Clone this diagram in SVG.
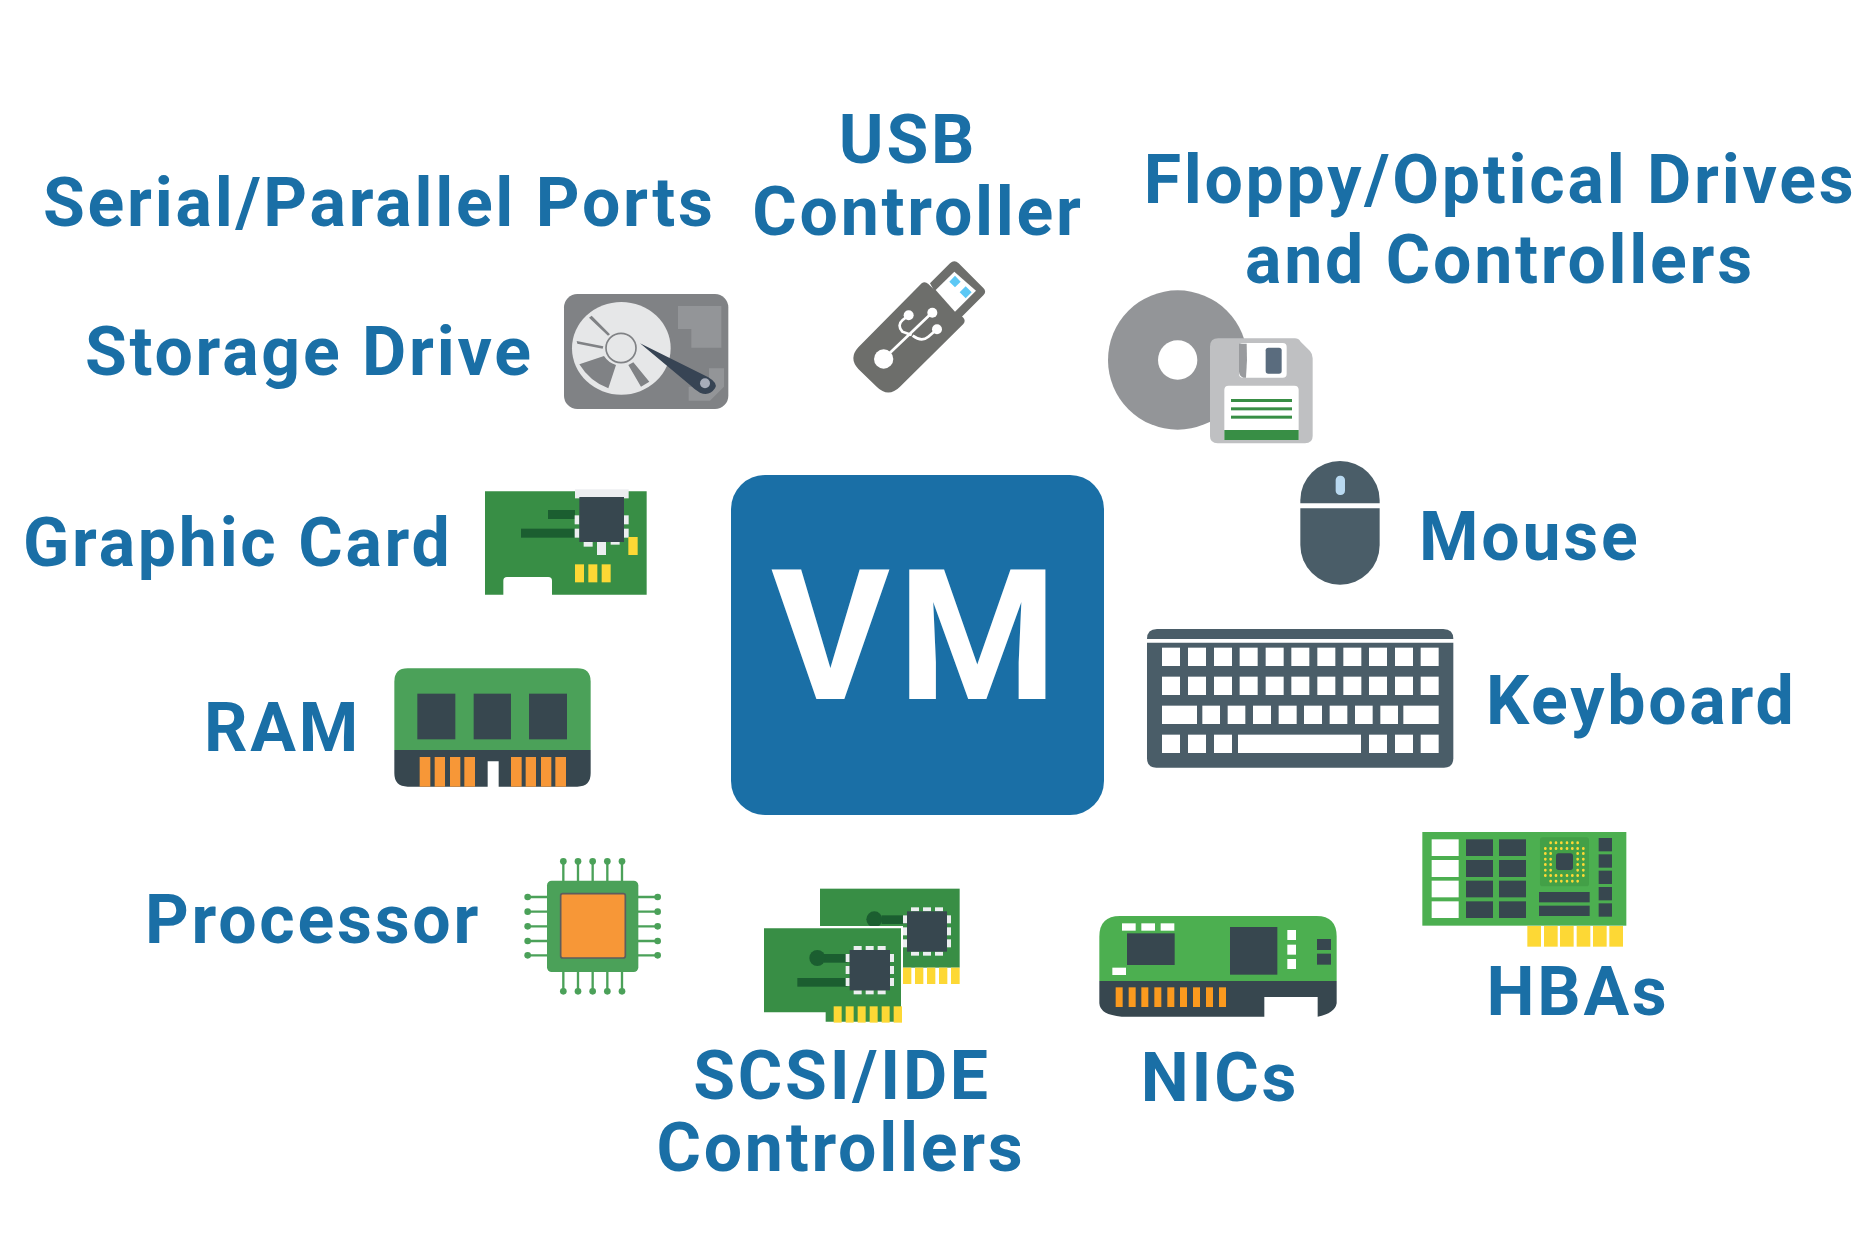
<svg xmlns="http://www.w3.org/2000/svg" width="1876" height="1250" viewBox="0 0 1876 1250">
<style>
text{font-family:Roboto,"Liberation Sans",sans-serif;font-weight:700;fill:#1a6fa6;font-size:68px;letter-spacing:2.75px}
.m{text-anchor:middle}
.d{fill:#37474f}
.o{fill:#f79737}
.y{fill:#fdd835}
.w{fill:#eceef0}
.g{fill:#388e45}
.gd{fill:#1b5e30}
</style>
<rect width="1876" height="1250" fill="#fff"/>
<g id="connectors"/>
<g id="vm"><rect x="731" y="475" width="373" height="340" rx="34" fill="#1a6fa6"/><text x="918" y="699" class="m" style="font-size:182px;fill:#fff;letter-spacing:8px">VM</text></g>
<g id="serial"><text x="43" y="226">Serial/Parallel Ports</text></g>
<g id="usb"><text x="908" y="163" class="m">USB</text><text x="918" y="235" class="m">Controller</text>
<g transform="translate(540 270) scale(.33333)">
<path d="M1170,40 L1230,-20 Q1243,-33 1256,-20 L1330,54 Q1341,65 1330,76 L1240,166Z" fill="#6d6e6b"/>
<path d="M1145,40 Q1155,33 1165,42 L1270,143 Q1278,152 1270,162 L1080,350 Q1045,385 1010,350 L955,297 Q925,265 955,232 Z" fill="#6d6e6b"/>
<path d="M1187,60 L1243,5 L1308,62 L1245,125Z" fill="#fff"/>
<path d="M1245,17 L1262,35 L1245,52 L1228,35Z M1277,49 L1295,67 L1277,85 L1259,67Z" fill="#5cc8f5"/>
<circle cx="1031" cy="267" r="29" fill="#fff"/>
<path d="M1040,258 L1172,132 M1115,195 L1087,185 Q1070,165 1088,150 L1106,136 M1118,197 Q1145,217 1165,200 L1191,178" fill="none" stroke="#fff" stroke-width="8"/>
<circle cx="1106" cy="136" r="15" fill="#fff"/><circle cx="1177" cy="128" r="15" fill="#fff"/><circle cx="1191" cy="178" r="15" fill="#fff"/>
</g></g>
<g id="floppy"><text x="1500" y="203" class="m">Floppy/Optical Drives</text><text x="1500" y="283" class="m">and Controllers</text>
<g transform="translate(1090 270) scale(.33333)">
<circle cx="263" cy="270" r="209" fill="#939598"/><circle cx="263" cy="270" r="59" fill="#fff"/>
<path d="M385,205 H615 Q625,205 632,215 L660,243 Q668,252 668,265 V498 Q668,520 645,520 H383 Q360,520 360,498 V230 Q360,205 385,205Z" fill="#bfc0c2"/>
<rect x="447" y="219" width="143" height="104" rx="12" fill="#fff"/>
<path d="M447,221 H470 Q473,270 468,323 H460 Q448,318 447,305Z" fill="#999b9e"/>
<rect x="527" y="233" width="48" height="78" rx="8" fill="#5a6c7e"/>
<path d="M403,510 V360 Q403,347 416,347 H613 Q626,347 626,360 V510Z" fill="#fff"/>
<rect x="403" y="480" width="223" height="30" fill="#388e45"/>
<rect x="423" y="387" width="183" height="9" fill="#388e45"/><rect x="423" y="412" width="183" height="9" fill="#388e45"/><rect x="423" y="437" width="183" height="9" fill="#388e45"/>
</g></g>
<g id="storage"><text x="85" y="375">Storage Drive</text>
<g transform="translate(540 270) scale(.33333)">
<rect x="72" y="72" width="493" height="345" rx="40" fill="#808285"/>
<path d="M414,108 H544 V233 H454 V177 H414Z M507,295 H552 V350 L510,392 H446 V350 H507Z" fill="#939598"/>
<ellipse cx="244" cy="235" rx="148" ry="139" fill="#e6e7e8"/>
<path d="M147,143 L155,137 L210,193 L204,197Z M110,213 L112,221 L188,236 L190,229Z M118,283 L192,258 Q205,278 228,285 L205,355 Q150,335 118,283Z M265,285 L280,277 L328,335 L303,350Z" fill="#808285"/>
<ellipse cx="243" cy="234" rx="45" ry="44" fill="#e6e7e8" stroke="#808285" stroke-width="5"/>
<path d="M300,220 L505,322 Q535,340 525,355 Q508,380 480,368 Q465,360 450,345Z" fill="#374454"/>
<circle cx="495" cy="340" r="15" fill="#a7adba"/>
</g></g>
<g id="mouse"><text x="1419" y="560">Mouse</text>
<g transform="translate(1090 270) scale(.33333)">
<path d="M631,700 V690 A119,117 0 0 1 869,690 V700Z" fill="#4a5d68"/>
<path d="M631,715 H869 V825 A119,119 0 0 1 631,825Z" fill="#4a5d68"/>
<rect x="737" y="617" width="28" height="58" rx="13" fill="#b9d9f0"/>
</g></g>
<g id="graphic"><text x="23" y="566">Graphic Card</text>
<g transform="translate(470 470) scale(.33333)">
<path d="M45,64 H530 V374 H246 V332 Q246,321 235,321 H111 Q100,321 100,332 V374 H45Z" class="g"/>
<rect x="234" y="120" width="81" height="27" class="gd"/><rect x="153" y="176" width="162" height="27" class="gd"/>
<rect x="315" y="58" width="161" height="27" class="w"/>
<rect x="314" y="136" width="14" height="27" class="w"/><rect x="314" y="176" width="14" height="27" class="w"/><rect x="462" y="136" width="14" height="27" class="w"/><rect x="462" y="176" width="14" height="27" class="w"/>
<rect x="341" y="216" width="27" height="14" class="w"/><rect x="381" y="216" width="27" height="39" class="w"/><rect x="422" y="216" width="27" height="8" class="w"/>
<rect x="328" y="81" width="134" height="135" class="d"/>
<rect x="475" y="201" width="28" height="54" class="y"/>
<rect x="315" y="283" width="27" height="54" class="y"/><rect x="355" y="283" width="27" height="54" class="y"/><rect x="395" y="283" width="27" height="54" class="y"/>
</g></g>
<g id="ram"><text x="204" y="751">RAM</text>
<g transform="translate(380 660) scale(.33333)">
<path d="M43,270 V65 Q43,25 83,25 H592 Q632,25 632,65 V270Z" fill="#4ba159"/>
<path d="M43,270 H632 V340 Q632,380 592,380 H356 V304 H323 V380 H83 Q43,380 43,340Z" class="d"/>
<rect x="112" y="101" width="114" height="137" class="d"/><rect x="281" y="101" width="112" height="137" class="d"/><rect x="447" y="101" width="114" height="137" class="d"/>
<g class="o"><rect x="119" y="291" width="32" height="89"/><rect x="164" y="291" width="31" height="89"/><rect x="210" y="291" width="31" height="89"/><rect x="253" y="291" width="32" height="89"/><rect x="393" y="291" width="32" height="89"/><rect x="437" y="291" width="31" height="89"/><rect x="483" y="291" width="31" height="89"/><rect x="526" y="291" width="32" height="89"/></g>
</g></g>
<g id="processor"><text x="145" y="943">Processor</text>
<g transform="translate(380 660) scale(.33333)">
<g stroke="#4ba159" stroke-width="7" fill="#4ba159">
<path d="M550,604V664 M594,604V664 M638,604V664 M682,604V664 M726,604V664 M550,994V934 M594,994V934 M638,994V934 M682,994V934 M726,994V934 M443,711H503 M443,755H503 M443,799H503 M443,843H503 M443,886H503 M833,711H773 M833,755H773 M833,799H773 M833,843H773 M833,886H773"/>
</g>
<g fill="#4ba159"><circle cx="550" cy="604" r="10"/><circle cx="594" cy="604" r="10"/><circle cx="638" cy="604" r="10"/><circle cx="682" cy="604" r="10"/><circle cx="726" cy="604" r="10"/><circle cx="550" cy="994" r="10"/><circle cx="594" cy="994" r="10"/><circle cx="638" cy="994" r="10"/><circle cx="682" cy="994" r="10"/><circle cx="726" cy="994" r="10"/><circle cx="443" cy="711" r="10"/><circle cx="443" cy="755" r="10"/><circle cx="443" cy="799" r="10"/><circle cx="443" cy="843" r="10"/><circle cx="443" cy="886" r="10"/><circle cx="833" cy="711" r="10"/><circle cx="833" cy="755" r="10"/><circle cx="833" cy="799" r="10"/><circle cx="833" cy="843" r="10"/><circle cx="833" cy="886" r="10"/></g>
<rect x="501" y="662" width="274" height="274" rx="14" fill="#4ba159"/>
<rect x="542" y="701" width="194" height="193" rx="6" class="o" stroke="#5d5d5d" stroke-width="5"/>
</g></g>
<g id="scsi"><text x="842" y="1099" class="m">SCSI/IDE</text><text x="841" y="1171" class="m">Controllers</text>
<g transform="translate(750 870) scale(.33333)">
<rect x="210" y="56" width="419" height="237" class="g"/>
<rect x="395" y="136" width="80" height="26" class="gd"/><circle cx="373" cy="148" r="24" class="gd"/>
<g class="w"><rect x="483" y="112" width="24" height="12"/><rect x="519" y="112" width="24" height="12"/><rect x="555" y="112" width="24" height="12"/><rect x="483" y="245" width="24" height="12"/><rect x="519" y="245" width="24" height="12"/><rect x="555" y="245" width="24" height="12"/><rect x="459" y="136" width="12" height="24"/><rect x="459" y="172" width="12" height="24"/><rect x="459" y="208" width="12" height="24"/><rect x="591" y="136" width="12" height="24"/><rect x="591" y="172" width="12" height="24"/><rect x="591" y="208" width="12" height="24"/></g>
<rect x="471" y="124" width="120" height="121" class="d"/>
<g class="y"><rect x="459" y="293" width="25" height="49"/><rect x="495" y="293" width="25" height="49"/><rect x="531" y="293" width="25" height="49"/><rect x="567" y="293" width="25" height="49"/><rect x="603" y="293" width="26" height="49"/></g>
<path d="M36,168 H459 V462 H220 V434 H36Z" fill="#fff"/>
<path d="M42,175 H453 V455 H227 V427 H42Z" class="g"/>
<rect x="222" y="252" width="70" height="26" class="gd"/><circle cx="202" cy="264" r="24" class="gd"/><rect x="142" y="324" width="150" height="26" class="gd"/>
<g class="w"><rect x="311" y="228" width="24" height="12"/><rect x="347" y="228" width="24" height="12"/><rect x="383" y="228" width="24" height="12"/><rect x="311" y="361" width="24" height="12"/><rect x="347" y="361" width="24" height="12"/><rect x="383" y="361" width="24" height="12"/><rect x="287" y="252" width="12" height="24"/><rect x="287" y="288" width="12" height="24"/><rect x="287" y="324" width="12" height="24"/><rect x="420" y="252" width="12" height="24"/><rect x="420" y="288" width="12" height="24"/><rect x="420" y="324" width="12" height="24"/></g>
<rect x="299" y="240" width="121" height="121" class="d"/>
<g class="y"><rect x="251" y="409" width="24" height="49"/><rect x="287" y="409" width="24" height="49"/><rect x="323" y="409" width="24" height="49"/><rect x="359" y="409" width="24" height="49"/><rect x="395" y="409" width="24" height="49"/><rect x="431" y="409" width="25" height="49"/></g>
</g></g>
<g id="nics"><text x="1220" y="1101" class="m">NICs</text>
<g transform="translate(1090 900) scale(.33333)">
<path d="M28,243 V110 Q28,48 90,48 H680 Q740,48 740,110 V243Z" fill="#4caf50"/>
<path d="M28,243 H740 V310 Q735,340 683,350 V291 H523 V350 H95 Q30,345 28,310Z" class="d"/>
<g fill="#fff"><rect x="96" y="70" width="41" height="22"/><rect x="154" y="70" width="41" height="22"/><rect x="212" y="70" width="41" height="22"/><rect x="67" y="203" width="41" height="22"/><rect x="592" y="90" width="26" height="30"/><rect x="592" y="134" width="26" height="30"/><rect x="592" y="177" width="26" height="30"/></g>
<rect x="111" y="100" width="143" height="95" class="d"/><rect x="420" y="81" width="142" height="143" class="d"/><rect x="681" y="117" width="42" height="33" class="d"/><rect x="681" y="161" width="42" height="33" class="d"/>
<g fill="#fb9a1e"><rect x="77" y="262" width="21" height="59"/><rect x="116" y="262" width="21" height="59"/><rect x="154" y="262" width="21" height="59"/><rect x="193" y="262" width="21" height="59"/><rect x="232" y="262" width="21" height="59"/><rect x="270" y="262" width="21" height="59"/><rect x="309" y="262" width="21" height="59"/><rect x="348" y="262" width="21" height="59"/><rect x="387" y="262" width="21" height="59"/></g>
</g></g>
<g id="hbas"><text x="1578" y="1015" class="m">HBAs</text>
<g transform="translate(1410 820) scale(.33333)">
<rect x="37" y="36" width="612" height="281" fill="#4caf50"/>
<g fill="#fff"><rect x="65" y="58" width="81" height="50"/><rect x="65" y="120" width="81" height="51"/><rect x="65" y="182" width="81" height="50"/><rect x="65" y="244" width="81" height="50"/></g>
<g class="d"><rect x="168" y="58" width="81" height="50"/><rect x="267" y="58" width="81" height="50"/><rect x="168" y="120" width="81" height="51"/><rect x="267" y="120" width="81" height="51"/><rect x="168" y="182" width="81" height="50"/><rect x="267" y="182" width="81" height="50"/><rect x="168" y="244" width="81" height="50"/><rect x="267" y="244" width="81" height="50"/>
<rect x="387" y="216" width="152" height="31"/><rect x="387" y="257" width="152" height="31"/>
<rect x="566" y="54" width="40" height="40"/><rect x="566" y="103" width="40" height="40"/><rect x="566" y="152" width="40" height="40"/><rect x="566" y="201" width="40" height="40"/><rect x="566" y="250" width="40" height="40"/></g>
<rect x="390" y="52" width="147" height="147" rx="8" fill="#43a047"/>
<path d="M422,68v1M438,68v1M454,68v1M471,68v1M487,68v1M503,68v1M406,85v1M422,85v1M438,85v1M454,85v1M471,85v1M487,85v1M503,85v1M520,85v1M406,100v1M422,100v1M503,100v1M520,100v1M406,117v1M422,117v1M503,117v1M520,117v1M406,133v1M422,133v1M503,133v1M520,133v1M406,150v1M422,150v1M503,150v1M520,150v1M406,166v1M422,166v1M438,166v1M454,166v1M471,166v1M487,166v1M503,166v1M520,166v1M422,183v1M438,183v1M454,183v1M471,183v1M487,183v1M503,183v1" stroke="#fdd835" stroke-width="8" stroke-linecap="round"/>
<rect x="438" y="100" width="51" height="50" rx="8" class="d"/>
<g class="y"><rect x="352" y="318" width="41" height="62"/><rect x="402" y="318" width="41" height="62"/><rect x="450" y="318" width="41" height="62"/><rect x="500" y="318" width="41" height="62"/><rect x="549" y="318" width="41" height="62"/><rect x="598" y="318" width="41" height="62"/></g>
</g></g>
<g id="keyboard"><text x="1486" y="724">Keyboard</text>
<g transform="translate(1130 620) scale(.33333)">
<path d="M51,57 Q51,27 81,27 H940 Q970,27 970,57Z" fill="#4a5d68"/>
<path d="M51,68 H970 V415 Q970,443 942,443 H79 Q51,443 51,415Z" fill="#4a5d68"/>
<g fill="#fff">
<rect x="96" y="83" width="54" height="55"/><rect x="174" y="83" width="54" height="55"/><rect x="252" y="83" width="54" height="55"/><rect x="329" y="83" width="54" height="55"/><rect x="407" y="83" width="54" height="55"/><rect x="484" y="83" width="54" height="55"/><rect x="562" y="83" width="54" height="55"/><rect x="640" y="83" width="54" height="55"/><rect x="717" y="83" width="54" height="55"/><rect x="795" y="83" width="54" height="55"/><rect x="872" y="83" width="54" height="55"/>
<rect x="96" y="170" width="54" height="55"/><rect x="174" y="170" width="54" height="55"/><rect x="252" y="170" width="54" height="55"/><rect x="329" y="170" width="54" height="55"/><rect x="407" y="170" width="54" height="55"/><rect x="484" y="170" width="54" height="55"/><rect x="562" y="170" width="54" height="55"/><rect x="640" y="170" width="54" height="55"/><rect x="717" y="170" width="54" height="55"/><rect x="795" y="170" width="54" height="55"/><rect x="872" y="170" width="54" height="55"/>
<rect x="96" y="257" width="105" height="55"/><rect x="217" y="257" width="53" height="55"/><rect x="293" y="257" width="53" height="55"/><rect x="369" y="257" width="54" height="55"/><rect x="446" y="257" width="54" height="55"/><rect x="522" y="257" width="54" height="55"/><rect x="599" y="257" width="53" height="55"/><rect x="675" y="257" width="53" height="55"/><rect x="751" y="257" width="53" height="55"/><rect x="820" y="257" width="106" height="55"/>
<rect x="96" y="344" width="54" height="55"/><rect x="174" y="344" width="54" height="55"/><rect x="252" y="344" width="54" height="55"/><rect x="324" y="344" width="369" height="55"/><rect x="717" y="344" width="54" height="55"/><rect x="795" y="344" width="54" height="55"/><rect x="872" y="344" width="54" height="55"/>
</g></g></g>
</svg>
